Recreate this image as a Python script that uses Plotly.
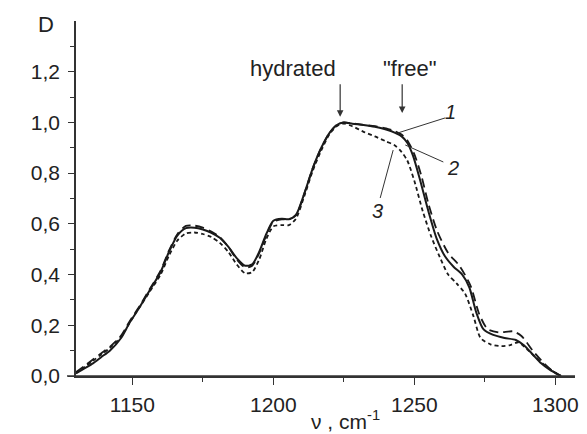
import plotly.graph_objects as go

# ---- data ----
x_1 = [1130, 1133, 1136, 1139, 1142, 1146, 1149, 1152.5, 1156, 1160, 1163, 1166, 1169, 1172, 1175, 1178,
       1181, 1184, 1187, 1190, 1192.5, 1195, 1197.5, 1200, 1203, 1205.5, 1208, 1211, 1214, 1217, 1220,
       1222.5, 1225, 1228, 1232, 1236, 1240, 1243, 1245.5, 1247.5, 1250, 1252.5, 1255, 1258, 1262, 1266,
       1270, 1273, 1276, 1280, 1285, 1288, 1292, 1296, 1299, 1302]
y_1 = [0.015, 0.04, 0.065, 0.09, 0.115, 0.16, 0.215, 0.275, 0.34, 0.415, 0.495, 0.56, 0.592, 0.593, 0.585,
       0.57, 0.548, 0.51, 0.46, 0.428, 0.435, 0.485, 0.555, 0.608, 0.618, 0.617, 0.633, 0.72, 0.82, 0.9,
       0.96, 0.99, 1.0, 0.996, 0.99, 0.985, 0.977, 0.966, 0.952, 0.93, 0.875, 0.79, 0.68, 0.575, 0.485,
       0.435, 0.355, 0.245, 0.185, 0.172, 0.176, 0.158, 0.1, 0.05, 0.02, 0.0]

x_2 = [1130, 1133, 1136, 1139, 1142, 1146, 1149, 1152.5, 1156, 1160, 1163, 1166, 1169, 1172, 1175, 1178,
       1181, 1184, 1187, 1190, 1192.5, 1195, 1197.5, 1200, 1203, 1205.5, 1208, 1211, 1214, 1217, 1220,
       1222.5, 1225, 1228, 1232, 1236, 1240, 1243, 1245.5, 1247.5, 1249.5, 1252, 1255, 1258, 1261, 1264,
       1267, 1269.5, 1272, 1274.5, 1278, 1282, 1286, 1289, 1292, 1295, 1298, 1302]
y_2 = [0.01, 0.03, 0.05, 0.075, 0.1, 0.15, 0.21, 0.27, 0.335, 0.41, 0.49, 0.555, 0.583, 0.585, 0.578,
       0.565, 0.545, 0.51, 0.465, 0.435, 0.44, 0.49, 0.56, 0.612, 0.62, 0.618, 0.635, 0.72, 0.82, 0.9,
       0.96, 0.99, 1.0, 0.995, 0.99, 0.983, 0.972, 0.96, 0.945, 0.92, 0.87, 0.775, 0.65, 0.54, 0.47,
       0.43, 0.4, 0.35, 0.25, 0.185, 0.162, 0.15, 0.142, 0.12, 0.085, 0.05, 0.025, 0.0]

x_3 = [1130, 1133, 1136, 1139, 1142, 1146, 1149, 1152.5, 1156, 1160, 1163, 1166, 1169, 1172, 1175, 1178,
       1181, 1184, 1187, 1190, 1192.5, 1195, 1197.5, 1200, 1203, 1205.5, 1208, 1211, 1214, 1217, 1220,
       1222.5, 1225, 1228, 1232, 1236, 1240, 1243, 1245, 1247.5, 1250, 1253, 1256, 1259, 1262, 1265,
       1268, 1271, 1273.5, 1277, 1281, 1284, 1287, 1290, 1293, 1296, 1299, 1302]
y_3 = [0.012, 0.035, 0.06, 0.085, 0.11, 0.155, 0.21, 0.27, 0.33, 0.4, 0.475, 0.535, 0.562, 0.566, 0.56,
       0.548, 0.525, 0.49, 0.44, 0.405, 0.41, 0.46, 0.54, 0.59, 0.595, 0.595, 0.62, 0.71, 0.81, 0.89,
       0.955, 0.985, 0.995, 0.985, 0.963, 0.945, 0.925, 0.91, 0.89, 0.85, 0.77, 0.65, 0.55, 0.47, 0.4,
       0.365, 0.325, 0.235, 0.15, 0.125, 0.118, 0.122, 0.133, 0.105, 0.075, 0.045, 0.02, 0.0]

x_ticks = [1150, 1200, 1250, 1300]
x_minor = [1175, 1225, 1275]
y_ticks = [0.0, 0.2, 0.4, 0.6, 0.8, 1.0, 1.2]
y_minor = [0.1, 0.3, 0.5, 0.7, 0.9, 1.1, 1.3]
y_tick_text = ["0,0", "0,2", "0,4", "0,6", "0,8", "1,0", "1,2"]

X_MIN, X_MAX = 1130, 1307

FONT = "Liberation Sans, Arial, sans-serif"
INK = "#1a1a1a"
AX = "#333"

fig = go.Figure()
fig.add_trace(go.Scatter(x=x_1, y=y_1, mode="lines", name="1",
                         line=dict(color=INK, width=1.8, dash="9px,5px", shape="spline", smoothing=0.7)))
fig.add_trace(go.Scatter(x=x_3, y=y_3, mode="lines", name="3",
                         line=dict(color=INK, width=1.8, dash="4px,3px", shape="spline", smoothing=0.7)))
fig.add_trace(go.Scatter(x=x_2, y=y_2, mode="lines", name="2",
                         line=dict(color=INK, width=2.0, shape="spline", smoothing=0.7)))

# the page body has an 8px default margin, so the figure is drawn 8px smaller
fig.update_layout(
    width=579, height=426,
    margin=dict(l=68, r=12, t=13, b=58, autoexpand=False),
    paper_bgcolor="white", plot_bgcolor="white",
    showlegend=False,
    separators=",.",
    font=dict(family=FONT, size=21, color="#222"),
    xaxis=dict(range=[X_MIN, X_MAX], showgrid=False, zeroline=False,
               showline=True, linecolor=AX, linewidth=1.5,
               tickmode="array", tickvals=x_ticks, ticks="outside", ticklen=7, tickwidth=1.4,
               tickcolor=AX, ticklabelstandoff=2,
               minor=dict(tickvals=x_minor, ticks="outside", ticklen=4, tickwidth=1.4, tickcolor=AX),
               tickfont=dict(size=21, family=FONT, color="#222")),
    yaxis=dict(range=[0, 1.4], showgrid=False, zeroline=False,
               showline=True, linecolor=AX, linewidth=1.5,
               tickmode="array", tickvals=y_ticks, ticktext=y_tick_text,
               ticks="outside", ticklen=6, tickwidth=1.4, tickcolor=AX, ticklabelstandoff=4,
               minor=dict(tickvals=y_minor, ticks="outside", ticklen=4, tickwidth=1.4, tickcolor=AX),
               tickfont=dict(size=21, family=FONT, color="#222")),
)

# x axis line, extended a little to the left of the y axis
fig.add_shape(type="line", xref="paper", yref="paper", x0=-9 / 499, x1=1, y0=0, y1=0,
              line=dict(color=AX, width=1.5), layer="above")

ann = []
# axis titles
ann.append(dict(text="D", xref="paper", yref="paper", x=-0.06, y=0.989, showarrow=False,
                xanchor="center", yanchor="middle", font=dict(size=22, family=FONT, color="#222")))
ann.append(dict(text="ν , cm<sup>-1</sup>", xref="paper", yref="paper", x=0.54, y=-0.125,
                showarrow=False, xanchor="center", yanchor="middle",
                font=dict(size=21, family=FONT, color="#222")))
# peak labels
ann.append(dict(text="hydrated", x=1207, y=1.213, showarrow=False, xanchor="center", yanchor="middle",
                font=dict(size=22, family=FONT, color="#222")))
ann.append(dict(text="\"free\"", x=1248.5, y=1.213, showarrow=False, xanchor="center", yanchor="middle",
                font=dict(size=22, family=FONT, color="#222")))
# arrows
for ax_x, y_tail, y_head in [(1223.7, 1.156, 1.022), (1245.7, 1.156, 1.037)]:
    ann.append(dict(x=ax_x, y=y_head, ax=ax_x, ay=y_tail, xref="x", yref="y", axref="x", ayref="y",
                    text="", showarrow=True, arrowhead=2, arrowsize=1.1, arrowwidth=1.2,
                    arrowcolor=AX))
# curve numbers
for txt, tx, ty in [("1", 1263.0, 1.04), ("2", 1263.8, 0.82), ("3", 1236.8, 0.652)]:
    ann.append(dict(text=f"<i>{txt}</i>", x=tx, y=ty, showarrow=False, xanchor="center",
                    yanchor="middle", font=dict(size=20, family=FONT, color="#222")))
fig.update_layout(annotations=ann)

# leader lines for curve numbers
for x0, y0, x1, y1 in [(1244.3, 0.959, 1261.0, 1.018),
                       (1246.8, 0.911, 1260.3, 0.844),
                       (1242.5, 0.891, 1237.9, 0.702)]:
    fig.add_shape(type="line", x0=x0, y0=y0, x1=x1, y1=y1, xref="x", yref="y",
                  line=dict(color=AX, width=1))

fig.write_html("out.html")
